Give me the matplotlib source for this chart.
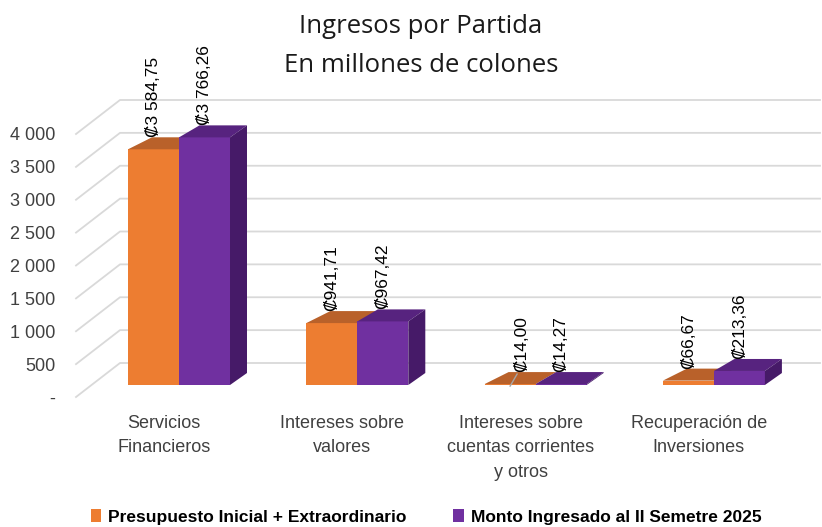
import numpy as np
import matplotlib.pyplot as plt
from matplotlib.patches import Polygon
from matplotlib.lines import Line2D
from matplotlib.transforms import IdentityTransform, ScaledTranslation

# datos (millones de colones)
categorias = ["Servicios\nFinancieros", "Intereses sobre\nvalores",
              "Intereses sobre\ncuentas corrientes\ny otros", "Recuperación de\nInversiones"]
presupuesto = [3584.75, 941.71, 14.00, 66.67]
ingresado = [3766.26, 967.42, 14.27, 213.36]
serie_nombres = ["Presupuesto Inicial + Extraordinario", "Monto Ingresado al II Semetre 2025"]
yticks = [0, 500, 1000, 1500, 2000, 2500, 3000, 3500, 4000]
ytick_labels = ["-", "500", "1 000", "1 500", "2 000", "2 500", "3 000", "3 500", "4 000"]

NARROW = ["Liberation Sans Narrow", "Liberation Sans", "DejaVu Sans"]
SANS = ["Liberation Sans", "DejaVu Sans"]

ORANGE, ORANGE_TOP = "#ED7D31", "#B9612A"
PURPLE, PURPLE_TOP, PURPLE_SIDE = "#7030A0", "#57237F", "#461A68"

W, H = 822, 527
fig = plt.figure(figsize=(W / 100, H / 100), dpi=100)
ax = fig.add_axes([76 / W, (H - 400) / H, (820 - 76) / W, 305 / H])
ax.set_xlim(-0.5777, 3.595)
ax.set_ylim(-228.1, 4410.6)
for s in ax.spines.values():
    s.set_visible(False)

x = np.arange(len(categorias))
bw = 0.286
b1 = ax.bar(x - bw / 2, presupuesto, bw, color=ORANGE, zorder=2)
b2 = ax.bar(x + bw / 2, ingresado, bw, color=PURPLE, zorder=4)

# profundidad en pixeles
DY = 12
DXL, DXR = 24, 17


def px(xv, yv):
    return ax.transData.transform((xv, yv))


# pared del fondo con lineas de division
for v in yticks:
    p = px(ax.get_xlim()[0], v)
    xr = ax.transAxes.transform((1, 0))[0]
    ln = Line2D([p[0], p[0] + 44, xr], [p[1] - 12, p[1] + 22, p[1] + 22],
                color="#d9d9d9", lw=1.3, transform=IdentityTransform(), zorder=0)
    ln.set_clip_on(False)
    ax.add_artist(ln)

# caras 3D de las barras
for i in range(len(x)):
    left = px(x[i] - bw, 0)[0]
    mid = px(x[i], 0)[0]
    right = px(x[i] + bw, 0)[0]
    dxm = (DXL + DXR) / 2
    # naranja: cara superior
    top = px(x[i], presupuesto[i])[1]
    ax.add_patch(Polygon([(left, top), (mid, top), (mid + dxm, top + DY), (left + DXL, top + DY)],
                         closed=True, facecolor=ORANGE_TOP, edgecolor="none",
                         transform=IdentityTransform(), zorder=3, clip_on=False))
    # morado: cara superior y lateral
    top = px(x[i], ingresado[i])[1]
    base = px(x[i], 0)[1]
    ax.add_patch(Polygon([(mid, top), (right, top), (right + DXR, top + DY), (mid + dxm, top + DY)],
                         closed=True, facecolor=PURPLE_TOP, edgecolor="none",
                         transform=IdentityTransform(), zorder=5, clip_on=False))
    ax.add_patch(Polygon([(right, base), (right, top), (right + DXR, top + DY), (right + DXR, base + DY)],
                         closed=True, facecolor=PURPLE_SIDE, edgecolor="none",
                         transform=IdentityTransform(), zorder=5, clip_on=False))

# etiquetas de datos
def fmt(v):
    s = f"{v:,.2f}".replace(",", " ").replace(".", ",")
    return "₡" + s


for i in range(len(x)):
    for vals, xc in ((presupuesto, x[i] - bw / 2), (ingresado, x[i] + bw / 2)):
        p = px(xc, vals[i])
        shift = 0
        if vals is presupuesto and i == 2:
            shift = 12
            ln = Line2D([p[0], p[0] + 7], [p[1] - 2, p[1] + 10], color="#a6a6a6", lw=1,
                        transform=IdentityTransform(), zorder=6)
            ax.add_artist(ln)
        ax.text(p[0] + shift, p[1] + DY, fmt(vals[i]), rotation=90, ha="center", va="bottom",
                fontsize=12.5, family=SANS, color="black", transform=IdentityTransform(), zorder=7)

# ejes
ax.set_yticks(yticks)
ax.set_yticklabels(ytick_labels, family=SANS, fontsize=13, color="#404040")
ax.tick_params(axis="y", length=0, pad=15)
for lab in ax.get_yticklabels():
    lab.set_transform(lab.get_transform() + ScaledTranslation(0, -0.12, fig.dpi_scale_trans))

ax.set_xticks(x)
ax.set_xticklabels(categorias, family=NARROW, fontsize=13, color="#404040", linespacing=1.55)
ax.tick_params(axis="x", length=0, pad=11)
for lab in ax.get_xticklabels():
    lab.set_transform(lab.get_transform() + ScaledTranslation(-0.15, 0, fig.dpi_scale_trans))

TITLE_FONT = ["Open Sans", "DejaVu Sans"]
fig.text(421 / W, 1 - 33 / H, "Ingresos por Partida", ha="center", va="baseline",
         fontsize=18.5, family=TITLE_FONT, color="#1a1a1a")
fig.text(421 / W, 1 - 72 / H, "En millones de colones", ha="center", va="baseline",
         fontsize=18.5, family=TITLE_FONT, color="#1a1a1a")

fig.legend([b1, b2], serie_nombres, loc="center", bbox_to_anchor=(426 / W, 1 - 517 / H), ncol=2,
           frameon=False, handlelength=0.6, handleheight=0.7, handletextpad=0.4, columnspacing=2.7,
           prop={"family": NARROW, "weight": "bold", "size": 12.5})

fig.savefig("out.png", dpi=100)
